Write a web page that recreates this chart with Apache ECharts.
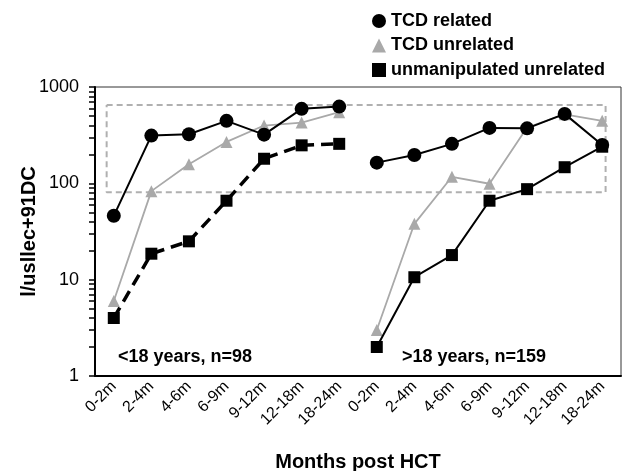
<!DOCTYPE html>
<html>
<head>
<meta charset="utf-8">
<script src="https://cdn.jsdelivr.net/npm/echarts@6/dist/echarts.min.js"></script>
<style>
  html, body { margin: 0; padding: 0; background: #fff; }
  #chart { width: 626px; height: 471px; }
</style>
</head>
<body>
<div id="chart"></div>
<script>
  var myChart = echarts.init(document.getElementById("chart"));

  // 时间段
  var periods = ["0-2m", "2-4m", "4-6m", "6-9m", "9-12m", "12-18m", "18-24m"];
  var categories = periods.concat(periods);

  // <18 years
  var youngTcdRelated = [46, 313, 323, 445, 320, 593, 626];
  var youngTcdUnrelated = [6.0, 83, 158, 269, 398, 427, 547];
  var youngUnmanip = [4.0, 18.6, 25, 66, 180, 248, 257];

  // >18 years
  var adultTcdRelated = [164, 197, 257, 376, 372, 526, 250];
  var adultTcdUnrelated = [3.0, 38, 117, 99, 380, 520, 445];
  var adultUnmanip = [2.0, 10.6, 18, 66, 87, 147, 240];

  // 虚线框 (x in category units, y in cells)
  var boxX = [0.31, 13.59];
  var boxY = [81, 652];

  var yLabelValues = [1, 10, 100, 1000];
  var yTickValues = [];
  [1, 10, 100].forEach(function (d) {
    for (var k = 1; k < 10; k++) yTickValues.push(d * k);
  });
  yTickValues.push(1000);

  var blank = periods.map(function () { return "-"; });
  function young(arr) { return arr.concat(blank); }
  function adult(arr) { return blank.concat(arr); }

  var font = "Arial, 'Liberation Sans', sans-serif";
  var gray = "#a9a9a9";

  function mkSeries(name, data, kind, dashed) {
    var s = {
      name: name,
      type: "line",
      data: data,
      xAxisIndex: 0,
      yAxisIndex: 0,
      connectNulls: false,
      animation: false,
    };
    if (kind === "circle") {
      s.symbol = "circle";
      s.symbolSize = 14;
      s.itemStyle = { color: "#000" };
      s.lineStyle = { color: "#000", width: 2 };
      s.z = 5;
    } else if (kind === "triangle") {
      s.symbol = "triangle";
      s.symbolSize = 12;
      s.itemStyle = { color: gray };
      s.lineStyle = { color: gray, width: 1.8 };
      s.z = 3;
    } else {
      s.symbol = "rect";
      s.symbolSize = 12;
      s.itemStyle = { color: "#000" };
      s.lineStyle = { color: "#000", width: dashed ? 3.5 : 2, type: dashed ? [12, 7] : "solid" };
      s.z = 4;
    }
    return s;
  }

  var series = [
    mkSeries("TCD unrelated", young(youngTcdUnrelated), "triangle"),
    mkSeries("TCD unrelated", adult(adultTcdUnrelated), "triangle"),
    mkSeries("unmanipulated unrelated", young(youngUnmanip), "rect", true),
    mkSeries("unmanipulated unrelated", adult(adultUnmanip), "rect", false),
    mkSeries("TCD related", young(youngTcdRelated), "circle"),
    mkSeries("TCD related", adult(adultTcdRelated), "circle"),
    {
      name: "box",
      type: "line",
      xAxisIndex: 1,
      yAxisIndex: 0,
      symbol: "none",
      silent: true,
      z: 1,
      lineStyle: { color: "#b0b0b0", width: 2, type: [6, 4] },
      data: [
        [boxX[0], boxY[1]],
        [boxX[1], boxY[1]],
        [boxX[1], boxY[0]],
        [boxX[0], boxY[0]],
        [boxX[0], boxY[1]],
      ],
    },
  ];

  var option = {
    animation: false,
    textStyle: { fontFamily: font },
    grid: {
      left: 95,
      right: 5,
      top: 87,
      bottom: 95,
      outerBoundsMode: "none",
      containLabel: false,
      show: true,
      borderColor: "#333",
      borderWidth: 1,
    },
    legend: {
      orient: "vertical",
      left: 367,
      top: 7,
      itemGap: 6.5,
      itemWidth: 14,
      itemHeight: 14,
      textStyle: { fontSize: 18, fontWeight: "bold", color: "#000", fontFamily: font },
      data: [
        { name: "TCD related", icon: "circle", itemStyle: { color: "#000" } },
        { name: "TCD unrelated", icon: "triangle", itemStyle: { color: gray } },
        { name: "unmanipulated unrelated", icon: "rect", itemStyle: { color: "#000" } },
      ],
    },
    xAxis: [
      {
        type: "category",
        data: categories,
        boundaryGap: true,
        name: "Months post HCT",
        nameLocation: "middle",
        nameGap: 76,
        nameMoveOverlap: false,
        nameTextStyle: { fontSize: 20, fontWeight: "bold", color: "#000" },
        axisLine: { lineStyle: { color: "#000", width: 2 } },
        axisTick: { alignWithLabel: false, length: 6, lineStyle: { color: "#000", width: 1.5 } },
        axisLabel: { rotate: 45, fontSize: 16, color: "#000", interval: 0, margin: 8 },
        splitLine: { show: false },
      },
      {
        type: "value",
        min: 0,
        max: 14,
        show: false,
      },
    ],
    yAxis: {
      type: "log",
      logBase: 10,
      min: 1,
      max: 1000,
      name: "l/usllec+91DC",
      nameLocation: "middle",
      nameRotate: 90,
      nameGap: 56,
      nameMoveOverlap: false,
      nameTextStyle: { fontSize: 20, fontWeight: "bold", color: "#000" },
      axisLine: { show: true, lineStyle: { color: "#000", width: 2 } },
      axisTick: { show: true, length: 6, customValues: yTickValues, lineStyle: { color: "#000", width: 1.5 } },
      axisLabel: {
        fontSize: 18,
        color: "#000",
        customValues: yLabelValues,
        margin: 16,
        formatter: function (v) { return String(Math.round(v)); },
      },
      splitLine: { show: false },
    },
    graphic: [
      {
        type: "text",
        left: 118,
        top: 348,
        style: { text: "<18 years, n=98", font: "bold 18px " + font, fill: "#000" },
      },
      {
        type: "text",
        left: 402,
        top: 348,
        style: { text: ">18 years, n=159", font: "bold 18px " + font, fill: "#000" },
      },
    ],
    series: series,
  };

  myChart.setOption(option);
</script>
</body>
</html>
